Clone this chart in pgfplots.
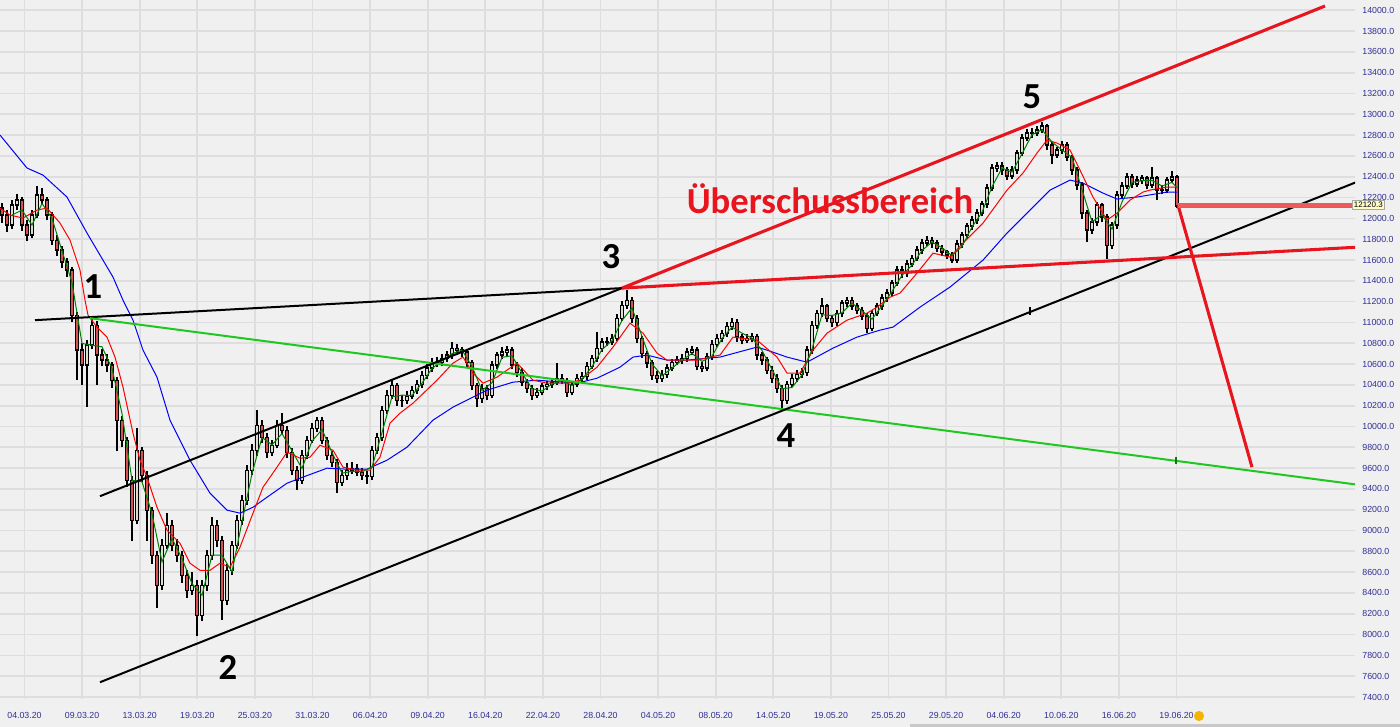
\documentclass[border=0pt]{standalone}
\usepackage{pgfplots}
\pgfplotsset{compat=1.18}
\usepackage{pgfplotstable}
\usepackage{fontspec}
\setmainfont{Liberation Sans}
\newfontfamily\calibri{Carlito}
\definecolor{bg}{HTML}{F0F0F0}
\definecolor{gridc}{HTML}{DEDEDE}
\definecolor{lab}{HTML}{2E2E96}
\definecolor{trred}{HTML}{E8141E}
\definecolor{lvred}{HTML}{F05A5A}
\definecolor{magreen}{HTML}{008000}
\definecolor{trgreen}{HTML}{1EC81E}
\definecolor{downc}{HTML}{D85050}
\definecolor{upc}{HTML}{DCDCD0}
\definecolor{scroll}{HTML}{C8C8C8}
\definecolor{dot}{HTML}{F5B400}

\pgfplotstableread{
x o h l c
2 12100 12150 11960 12032
7 12032 12080 11870 11936
12 11936 12180 11900 12128
17 12128 12230 12080 12176
22 12176 12210 11880 11936
27 11936 11980 11780 11840
32 11840 12080 11810 12032
37 12032 12310 12000 12224
42 12224 12290 12130 12176
47 12176 12210 11980 12032
52 12032 12060 11740 11791
57 11791 11840 11640 11695
62 11695 11730 11520 11580
67 11580 11620 11440 11503
72 11503 11530 11000 11070
77 11070 11100 10445 10734
82 10734 10800 10400 10590
87 10590 10830 10190 10782
92 10782 11040 10740 10974
97 10974 11010 10400 10686
102 10686 10740 10580 10638
107 10638 10700 10520 10590
112 10590 10620 10370 10445
117 10445 10480 9760 10061
122 10061 10100 9800 9868
127 9868 9900 9420 9484
132 9484 9520 8900 9099
137 9099 9990 9060 9772
142 9772 9800 9470 9532
147 9532 9570 8900 9195
152 9195 9230 8680 8763
157 8763 8800 8260 8474
162 8474 8920 8430 8859
167 8859 9166 8820 9051
172 9051 9100 8800 8859
177 8859 8920 8700 8763
182 8763 8800 8500 8570
187 8570 8620 8350 8426
192 8426 8600 8380 8474
197 8474 8520 7984 8186
202 8186 8520 8130 8474
207 8474 8810 8420 8763
212 8763 9130 8720 9051
217 9051 9100 8840 8907
222 8907 8950 8138 8330
227 8330 8680 8280 8618
232 8618 8900 8570 8859
237 8859 9150 8820 9099
242 9099 9340 9050 9291
247 9291 9630 9250 9580
252 9580 9830 9530 9772
257 9772 10157 9720 10013
262 10013 10060 9840 9897
267 9897 9940 9700 9753
272 9753 9870 9720 9820
277 9820 10060 9790 10013
282 10013 10128 9930 9964
287 9964 10000 9700 9753
292 9753 9790 9530 9580
297 9580 9620 9388 9484
302 9484 9770 9450 9724
307 9724 9910 9690 9868
312 9868 10030 9840 9984
317 9984 10090 9950 10061
322 10061 10090 9830 9868
327 9868 9900 9680 9724
332 9724 9760 9610 9657
337 9657 9690 9359 9465
342 9465 9580 9430 9532
347 9532 9650 9490 9580
352 9580 9660 9540 9599
357 9599 9640 9520 9561
362 9561 9600 9490 9532
367 9532 9570 9450 9522
372 9522 9810 9490 9772
377 9772 9940 9740 9897
382 9897 10200 9860 10157
387 10157 10350 10120 10301
392 10301 10445 10260 10397
397 10397 10420 10200 10253
402 10253 10300 10190 10253
407 10253 10340 10220 10292
412 10292 10390 10260 10349
417 10349 10450 10310 10407
422 10407 10530 10370 10493
427 10493 10600 10460 10561
432 10561 10660 10520 10618
437 10618 10670 10570 10618
442 10618 10700 10580 10657
447 10657 10730 10620 10686
452 10686 10810 10650 10753
457 10753 10790 10690 10734
462 10734 10760 10670 10715
467 10715 10740 10570 10618
472 10618 10640 10350 10397
477 10397 10420 10186 10272
482 10272 10410 10230 10368
487 10368 10400 10250 10301
492 10301 10630 10270 10590
497 10590 10720 10550 10686
502 10686 10760 10650 10715
507 10715 10770 10680 10734
512 10734 10760 10550 10590
517 10590 10620 10480 10522
522 10522 10560 10390 10426
527 10426 10460 10320 10368
532 10368 10400 10253 10301
537 10301 10370 10270 10330
542 10330 10420 10300 10388
547 10388 10440 10350 10407
552 10407 10460 10370 10426
557 10426 10609 10400 10464
562 10464 10500 10410 10445
567 10445 10470 10282 10330
572 10330 10440 10300 10407
577 10407 10500 10380 10464
582 10464 10520 10430 10484
587 10484 10620 10450 10580
592 10580 10690 10550 10657
597 10657 10907 10620 10753
602 10753 10850 10720 10811
607 10811 10860 10770 10811
612 10811 10890 10780 10849
617 10849 11080 10820 11041
622 11041 11210 11010 11166
627 11166 11310 11130 11214
632 11214 11240 10990 11041
637 11041 11070 10800 10849
642 10849 10870 10660 10705
647 10705 10730 10560 10609
652 10609 10640 10450 10493
657 10493 10530 10416 10464
662 10464 10540 10430 10503
667 10503 10600 10470 10561
672 10561 10650 10530 10618
677 10618 10680 10590 10638
682 10638 10700 10600 10657
687 10657 10750 10620 10715
692 10715 10770 10690 10734
697 10734 10760 10540 10580
702 10580 10620 10520 10561
707 10561 10710 10530 10676
712 10676 10830 10640 10791
717 10791 10890 10760 10849
722 10849 10930 10810 10897
727 10897 11000 10860 10964
732 10964 11041 10930 11003
737 11003 11030 10810 10859
742 10859 10890 10790 10830
747 10830 10890 10800 10849
752 10849 10900 10810 10868
757 10868 10890 10640 10686
762 10686 10720 10590 10638
767 10638 10670 10500 10541
772 10541 10580 10420 10464
777 10464 10500 10320 10368
782 10368 10400 10176 10253
787 10253 10440 10220 10407
792 10407 10500 10380 10464
797 10464 10540 10430 10503
802 10503 10560 10470 10522
807 10522 10770 10490 10734
812 10734 11010 10700 10974
817 10974 11120 10940 11089
822 11089 11234 11050 11157
827 11157 11180 11000 11041
832 11041 11070 10960 11003
837 11003 11120 10970 11089
842 11089 11220 11050 11186
847 11186 11243 11150 11214
852 11214 11240 11120 11157
857 11157 11190 11080 11118
862 11118 11150 11020 11061
867 11061 11090 10897 10945
872 10945 11120 10920 11089
877 11089 11190 11060 11157
882 11157 11270 11120 11234
887 11234 11320 11200 11282
892 11282 11410 11250 11378
897 11378 11540 11350 11503
902 11503 11540 11430 11474
907 11474 11600 11440 11561
912 11561 11650 11530 11618
917 11618 11730 11590 11695
922 11695 11800 11660 11763
927 11763 11830 11730 11791
932 11791 11820 11720 11763
937 11763 11790 11680 11714
942 11714 11740 11640 11676
947 11676 11700 11610 11647
952 11647 11680 11570 11599
957 11599 11790 11570 11753
962 11753 11870 11720 11840
967 11840 11960 11810 11926
972 11926 12020 11890 11984
977 11984 12090 11950 12051
982 12051 12170 12020 12138
987 12138 12330 12100 12291
992 12291 12520 12260 12484
997 12484 12540 12450 12503
1002 12503 12540 12420 12464
1007 12464 12490 12370 12407
1012 12407 12500 12380 12464
1017 12464 12660 12430 12628
1022 12628 12810 12600 12772
1027 12772 12860 12740 12820
1032 12820 12870 12770 12820
1037 12820 12890 12790 12849
1042 12849 12930 12820 12888
1047 12888 12910 12660 12705
1052 12705 12730 12520 12609
1057 12609 12690 12580 12657
1062 12657 12740 12620 12705
1067 12705 12730 12550 12589
1072 12589 12610 12420 12464
1077 12464 12490 12270 12320
1082 12320 12350 11990 12051
1087 12051 12080 11772 11888
1092 11888 12000 11850 11965
1097 11965 12160 11930 12128
1102 12128 12150 11970 12013
1107 12013 12040 11610 11743
1112 11743 11970 11710 11936
1117 11936 12260 11900 12224
1122 12224 12350 12190 12311
1127 12311 12440 12280 12397
1132 12397 12430 12290 12330
1137 12330 12410 12300 12368
1142 12368 12420 12330 12388
1147 12388 12410 12280 12320
1152 12320 12493 12290 12388
1157 12388 12410 12180 12272
1162 12272 12320 12230 12272
1167 12272 12400 12240 12368
1172 12368 12460 12340 12397
1177 12397 12420 12099 12120
}\candles

\begin{document}
\begin{tikzpicture}
\fill[bg] (0,0) rectangle (1050pt,545.25pt);
\begin{axis}[
  at={(0,21pt)}, anchor=south west,
  scale only axis, width=1016.25pt, height=524.25pt,
  xmin=0, xmax=1355, ymin=7381, ymax=14099,
  clip mode=individual,
  axis line style={draw=none},
  major tick length=0pt,
  grid=major, major grid style={gridc, line width=1.3pt},
  ytick={7400,7600,...,14000},
  scaled y ticks=false,
  scaled x ticks=false,
  yticklabel pos=right,
  yticklabel={\pgfmathprintnumber[fixed, fixed zerofill, precision=1, 1000 sep={}, assume math mode=true]{\tick}},
  yticklabel style={font=\fontsize{6.6}{7}\selectfont, text=lab, anchor=west, xshift=2pt},
  xtick={24.5,82.1,139.7,197.3,254.9,312.5,370.1,427.7,485.3,542.9,600.5,658.1,715.7,773.3,830.9,888.5,946.1,1003.7,1061.3,1118.9,1176.5},
  xticklabels={04.03.20,09.03.20,13.03.20,19.03.20,25.03.20,31.03.20,06.04.20,09.04.20,16.04.20,22.04.20,28.04.20,04.05.20,08.05.20,14.05.20,19.05.20,25.05.20,29.05.20,04.06.20,10.06.20,16.06.20,19.06.20},
  xticklabel style={font=\fontsize{6.6}{7}\selectfont, text=lab, anchor=center, yshift=-12.5pt},
]
% wicks
\addplot[draw=none, mark=none, error bars/.cd, y dir=plus, y explicit, error mark=none,
  error bar style={draw=black, line width=0.9pt}]
  table[x=x, y=l, y error plus expr={\thisrow{h}-\thisrow{l}}] {\candles};
% bodies (outline)
\addplot[draw=none, mark=none, error bars/.cd, y dir=plus, y explicit, error mark=none,
  error bar style={draw=black, line width=3.3pt}]
  table[x=x, y expr={min(\thisrow{o},\thisrow{c})-6}, y error plus expr={abs(\thisrow{c}-\thisrow{o})+12}] {\candles};
% down bodies
\addplot[draw=none, mark=none, error bars/.cd, y dir=plus, y explicit, error mark=none,
  error bar style={draw=downc, line width=1.2pt}]
  table[x=x, y expr={\thisrow{c}+6}, y error plus expr={max(\thisrow{o}-\thisrow{c}-12,0)}] {\candles};
% up bodies
\addplot[draw=none, mark=none, error bars/.cd, y dir=plus, y explicit, error mark=none,
  error bar style={draw=upc, line width=1.2pt}]
  table[x=x, y expr={\thisrow{o}+6}, y error plus expr={max(\thisrow{c}-\thisrow{o}-12,0)}] {\candles};

% moving averages
\addplot[blue, line width=0.75pt] coordinates {
(0,12801) (27,12484) (43,12416) (67,12205) (87,11859) (113,11436) (123,11214) (133,11022) (143,10734) (157,10474) (170,10061) (190,9676) (210,9359) (227,9196) (240,9167) (253,9224) (267,9320) (287,9455) (300,9503) (327,9599) (347,9590) (367,9590) (387,9676) (407,9801) (433,10061) (453,10186) (487,10349) (513,10426) (537,10445) (577,10416) (597,10464) (620,10570) (633,10667) (647,10686) (667,10638) (687,10638) (720,10667) (757,10763) (767,10734) (787,10667) (807,10618) (833,10753) (857,10859) (880,10926) (893,10955) (920,11147) (950,11340) (983,11599) (1007,11859) (1030,12080) (1050,12272) (1070,12368) (1083,12339) (1103,12243) (1117,12186) (1137,12205) (1167,12253) (1177,12253)};
\addplot[red, line width=0.75pt] coordinates {
(0,12099) (10,12032) (23,12003) (37,12080) (47,12099) (60,11955) (70,11791) (80,11503) (85,11214) (88,11070) (97,10955) (107,10859) (115,10667) (123,10378) (133,9936) (140,9676) (147,9513) (157,9224) (167,9003) (180,8878) (190,8686) (200,8618) (210,8618) (220,8686) (230,8647) (240,8840) (253,9167) (263,9416) (277,9609) (287,9753) (300,9695) (310,9705) (320,9820) (333,9772) (343,9609) (357,9580) (370,9580) (380,9705) (390,10032) (400,10128) (413,10224) (437,10445) (453,10609) (463,10667) (473,10513) (483,10416) (497,10474) (517,10609) (533,10445) (547,10416) (567,10416) (580,10445) (597,10570) (613,10763) (630,10993) (643,10897) (657,10705) (667,10638) (683,10638) (697,10638) (710,10667) (720,10686) (733,10859) (757,10830) (777,10667) (787,10513) (800,10513) (813,10734) (827,10897) (847,11022) (867,11089) (877,11147) (890,11243) (900,11282) (917,11474) (933,11666) (950,11628) (963,11763) (983,11955) (1007,12272) (1023,12436) (1037,12628) (1047,12753) (1057,12724) (1070,12657) (1080,12464) (1093,12205) (1107,11984) (1117,12051) (1130,12176) (1143,12253) (1150,12272) (1167,12301) (1177,12301)};
\addplot[magreen, line width=0.75pt] coordinates {
(12,12032) (22,12080) (32,11936) (42,12144) (52,12000) (62,11689) (72,11384) (82,10798) (92,10782) (102,10766) (112,10558) (122,10125) (132,9484) (142,9468) (152,9163) (162,8699) (172,8923) (182,8731) (192,8490) (202,8378) (212,8763) (222,8763) (232,8602) (242,9083) (252,9548) (262,9894) (272,9823) (282,9932) (292,9766) (302,9596) (312,9859) (322,9971) (332,9750) (342,9551) (352,9570) (362,9564) (372,9609) (382,9942) (392,10285) (402,10301) (412,10298) (422,10416) (432,10557) (442,10631) (452,10699) (462,10734) (472,10577) (482,10346) (492,10420) (502,10664) (512,10680) (522,10513) (532,10365) (542,10340) (552,10407) (562,10445) (572,10394) (582,10452) (592,10574) (602,10740) (612,10824) (622,11019) (632,11140) (642,10865) (652,10602) (662,10487) (672,10561) (682,10638) (692,10702) (702,10625) (712,10676) (722,10846) (732,10955) (742,10897) (752,10849) (762,10731) (772,10548) (782,10362) (792,10375) (802,10496) (812,10743) (822,11073) (832,11067) (842,11093) (852,11186) (862,11112) (872,11032) (882,11160) (892,11298) (902,11452) (912,11551) (922,11692) (932,11772) (942,11718) (952,11641) (962,11731) (972,11917) (982,12058) (992,12304) (1002,12484) (1012,12445) (1022,12621) (1032,12804) (1042,12852) (1052,12734) (1062,12657) (1072,12586) (1082,12278) (1092,11968) (1102,12035) (1112,11897) (1122,12157) (1132,12346) (1142,12362) (1152,12365) (1162,12311) (1172,12346) (1177,12295)};

% trend lines
\addplot[black, line width=1.5pt] coordinates {(35,11022) (622,11330)};
\addplot[trgreen, line width=1.5pt] coordinates {(90,11041) (1358,9440)};
\addplot[black, line width=1.5pt] coordinates {(100,9330) (622,11330)};
\addplot[black, line width=1.5pt] coordinates {(100,7542) (1358,12355)};
\addplot[black, line width=0.8pt] coordinates {(1030,11145) (1030,11075)};
\addplot[magreen, line width=0.8pt] coordinates {(1176,9710) (1176,9640)};
\addplot[trred, line width=2.3pt] coordinates {(622,11330) (1325,14041)};
\addplot[trred, line width=2.3pt] coordinates {(622,11330) (1362,11726)};
\addplot[trred, line width=2.3pt] coordinates {(1178,12128) (1252,9609)};
\addplot[lvred, line width=3pt] coordinates {(1178,12128) (1353,12128)};
\addplot[trgreen, line width=0.6pt] coordinates {(1178,12108) (1353,12108)};

% labels
\node[font=\calibri\bfseries\fontsize{27.5}{30}\selectfont] at (axis cs:93,11340) {1};
\node[font=\calibri\bfseries\fontsize{27.5}{30}\selectfont] at (axis cs:228,7686) {2};
\node[font=\calibri\bfseries\fontsize{27.5}{30}\selectfont] at (axis cs:611,11628) {3};
\node[font=\calibri\bfseries\fontsize{27.5}{30}\selectfont] at (axis cs:786,9917) {4};
\node[font=\calibri\bfseries\fontsize{27.5}{30}\selectfont] at (axis cs:1032,13166) {5};
\node[font=\calibri\bfseries\fontsize{27.5}{30}\selectfont, text=trred] at (axis cs:830,12190) {Überschussbereich};
\node[draw=gray!70, fill=yellow!22, inner sep=1.2pt, font=\fontsize{6}{7}\selectfont, anchor=west] at (axis cs:1352,12128) {12120.3};
\end{axis}
\fill[scroll] (682.5pt,0) rectangle (1050pt,2.25pt);
\fill[dot] (899.25pt,8.25pt) circle (3.8pt);
\pgfresetboundingbox
\useasboundingbox (0,0) rectangle (1050pt,545.25pt);
\end{tikzpicture}
\end{document}
